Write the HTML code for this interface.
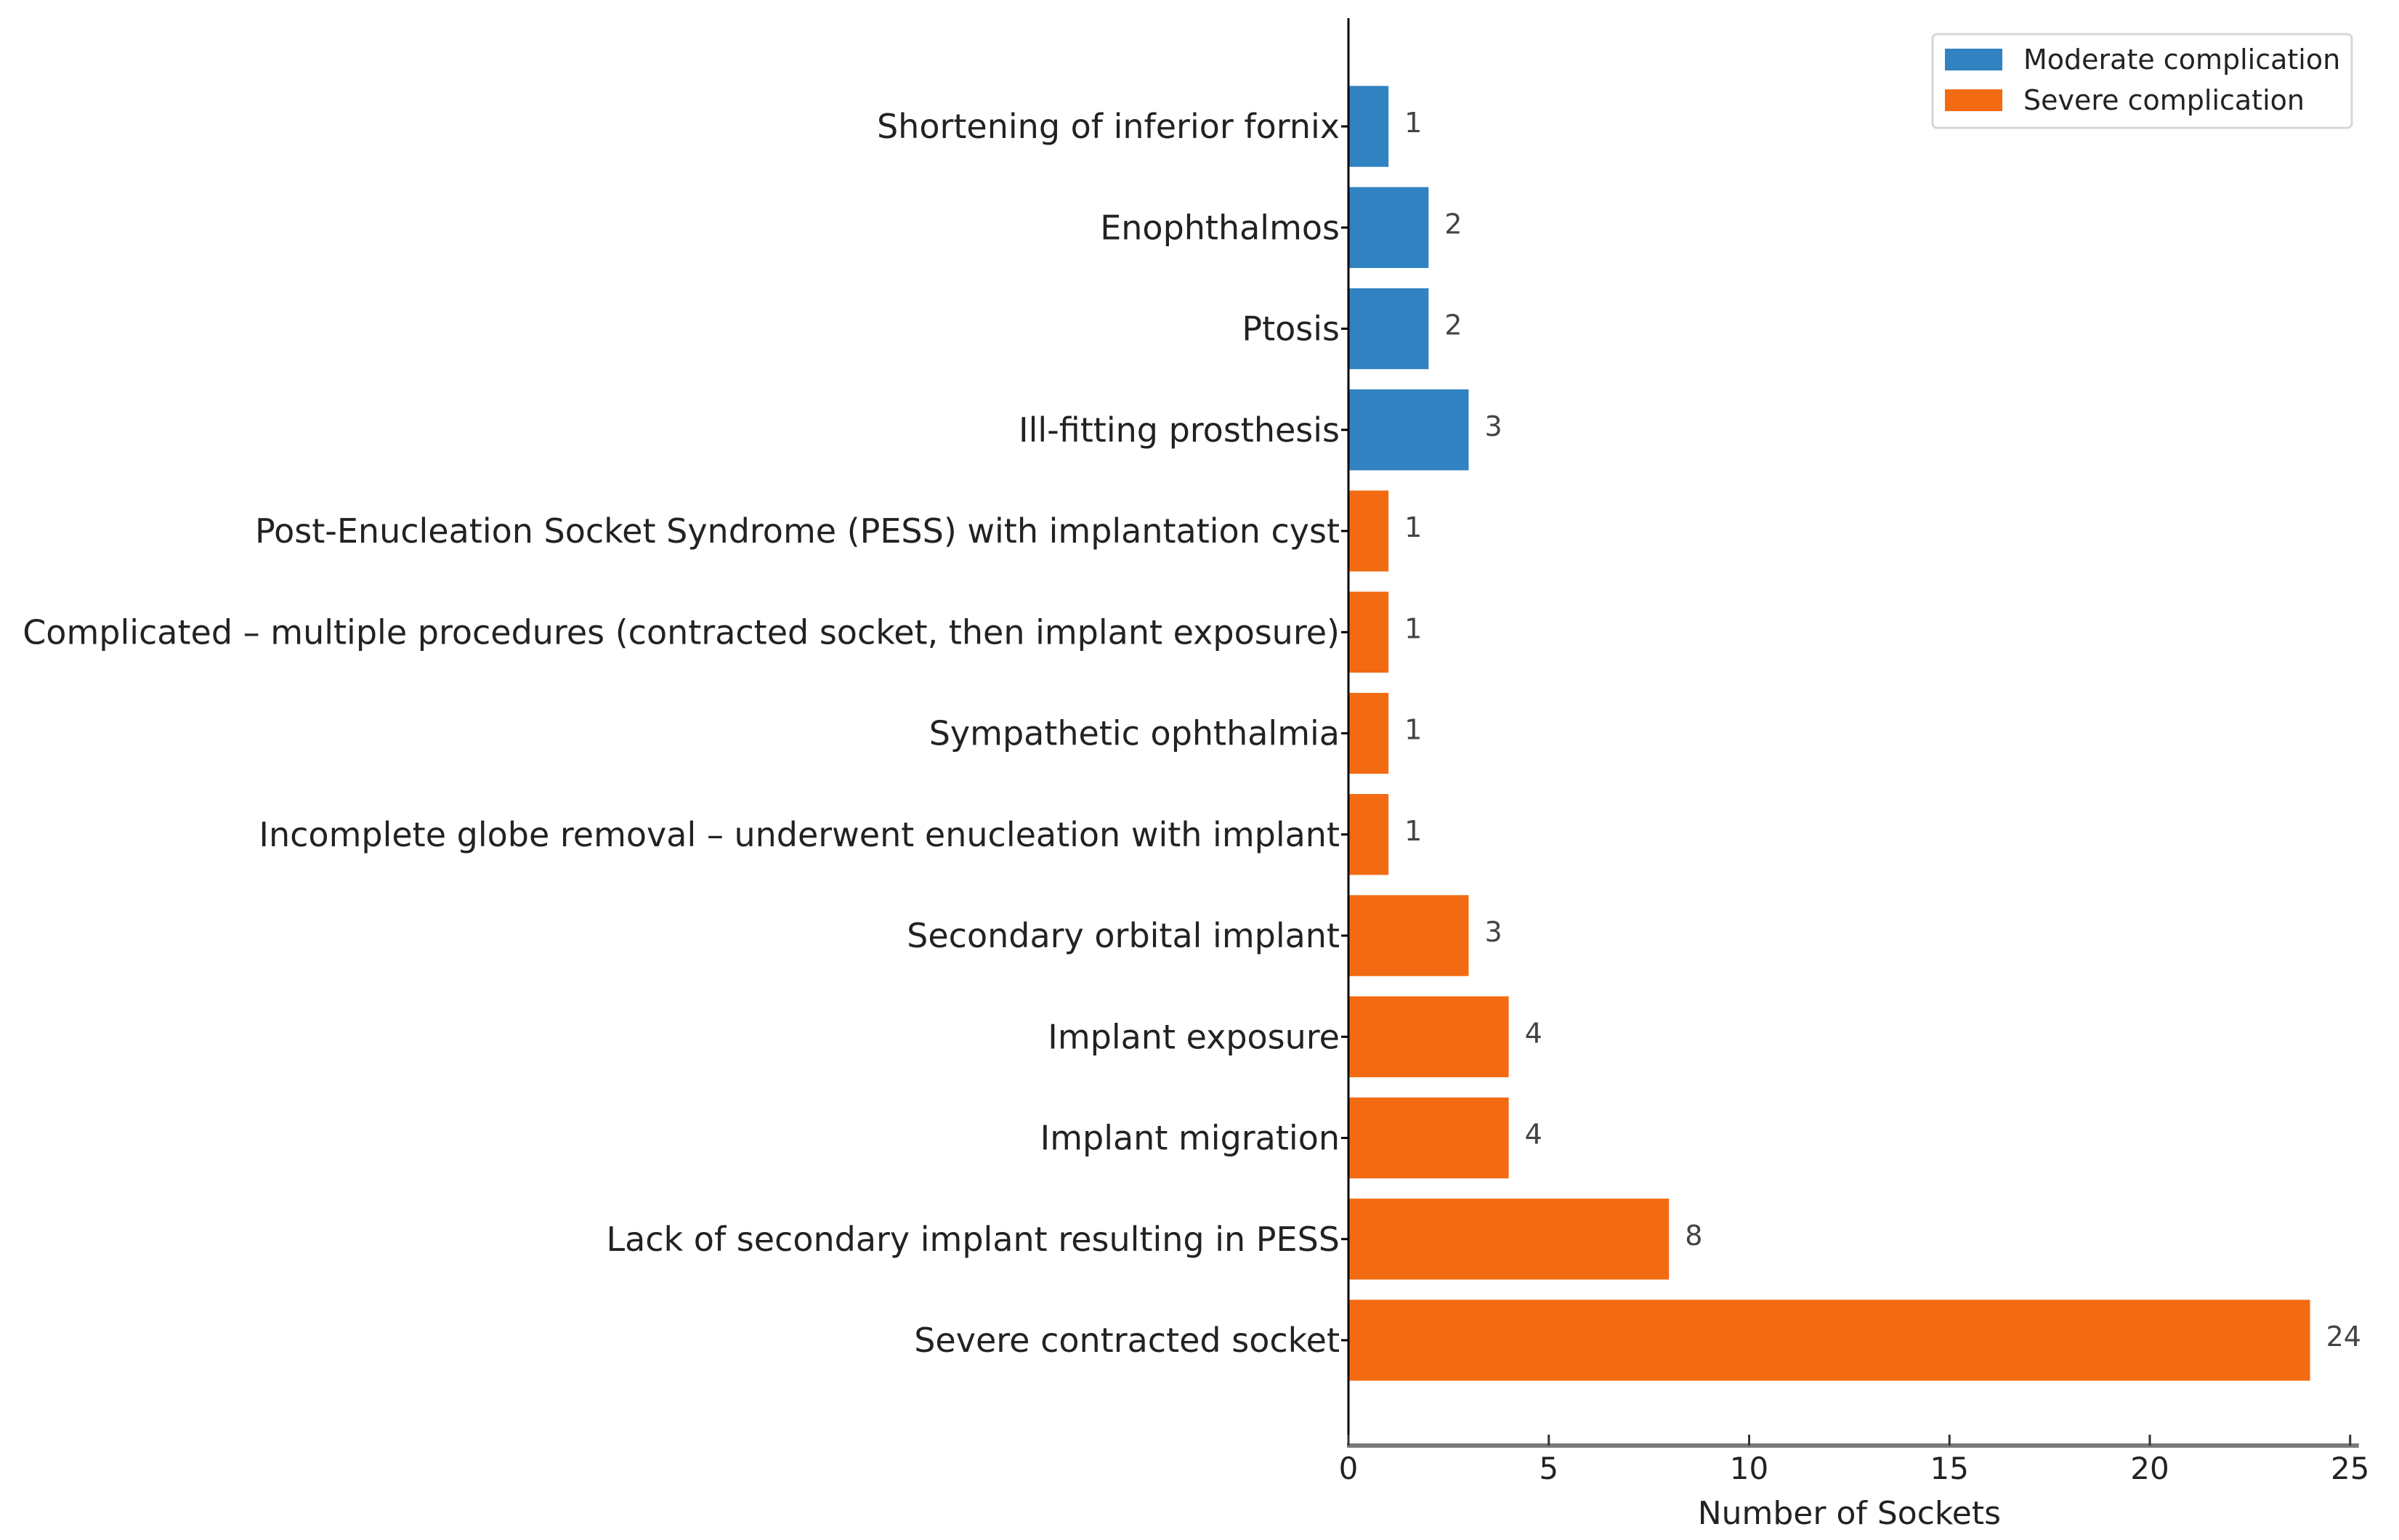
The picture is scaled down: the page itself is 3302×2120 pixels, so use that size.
<!DOCTYPE html>
<html><head><meta charset="utf-8"><style>
html,body{margin:0;padding:0;background:#fff;}
svg{display:block;font-family:"DejaVu Sans","Liberation Sans",sans-serif;}
</style></head><body>
<svg id="chart" width="3302" height="2120" viewBox="0 0 3302 2120" xmlns="http://www.w3.org/2000/svg">
<g id="plot"></g>
</svg>
<script>
const categories = ["Shortening of inferior fornix","Enophthalmos","Ptosis","Ill-fitting prosthesis","Post-Enucleation Socket Syndrome (PESS) with implantation cyst","Complicated \u2013 multiple procedures (contracted socket, then implant exposure)","Sympathetic ophthalmia","Incomplete globe removal \u2013 underwent enucleation with implant","Secondary orbital implant","Implant exposure","Implant migration","Lack of secondary implant resulting in PESS","Severe contracted socket"];
const values = [1,2,2,3,1,1,1,1,3,4,4,8,24];
const groups = ["moderate","moderate","moderate","moderate","severe","severe","severe","severe","severe","severe","severe","severe","severe"];
const xTicks = [0,5,10,15,20,25];
const legendLabels = ["Moderate complication","Severe complication"];

const NS="http://www.w3.org/2000/svg";
const g=document.getElementById('plot');
const X0=1856, XU=55.15;
const Y0=174, YU=139.25;
const colors={moderate:"#3182c0",severe:"#f26b12"};
function xs(v){return X0+v*XU;}
function ys(i){return Y0+i*YU;}
function mk(tag,attrs,parent){const e=document.createElementNS(NS,tag);for(const k in attrs)e.setAttribute(k,attrs[k]);(parent||g).appendChild(e);return e;}

categories.forEach((c,i)=>{
  const h=0.8*YU;
  const r=mk('rect',{x:xs(0),y:ys(i)-h/2,width:xs(values[i])-xs(0),height:h,fill:colors[groups[i]]});
  
  
  const t=mk('text',{x:xs(values[i])+22,y:ys(i)+8,'font-size':38,fill:'#444','text-anchor':'start'});
  t.textContent=values[i];
  
  
  const tk=mk('line',{x1:X0-10,x2:X0,y1:ys(i),y2:ys(i),stroke:'#000','stroke-width':3});
  
  
  const lb=mk('text',{x:X0-12,y:ys(i)+16,'font-size':46,fill:'#222','text-anchor':'end'});
  lb.textContent=c;
  
  
});

const ls=mk('line',{x1:X0,x2:X0,y1:25,y2:1992,stroke:'#000','stroke-width':3});


const bs=mk('line',{x1:X0-2,x2:xs(25)+12,y1:1990,y2:1990,stroke:'#7a7a7a','stroke-width':6});



xTicks.forEach((v,i)=>{
  const tk=mk('line',{x1:xs(v),x2:xs(v),y1:1975,y2:1990,stroke:'#333','stroke-width':3});
  
  
  const t=mk('text',{x:xs(v),y:2036,'font-size':42,fill:'#222','text-anchor':'middle'});
  t.textContent=v;
  
  
});
const xt=mk('text',{x:xs(12.5),y:2098,'font-size':44,fill:'#222','text-anchor':'middle'});
xt.textContent="Number of Sockets";



const lg=mk('g',{});


mk('rect',{x:2660,y:47,width:577,height:129,rx:6,fill:'#fff',stroke:'#d6d6d6','stroke-width':3},lg);
legendLabels.forEach((l,i)=>{
  const p=mk('rect',{x:2677,y:67+i*56,width:79,height:30,fill:i?colors.severe:colors.moderate},lg);
  
  
  const t=mk('text',{x:2785,y:95+i*56,'font-size':38,fill:'#222'},lg);
  t.textContent=l;
  
  
});
</script>
</body></html>
